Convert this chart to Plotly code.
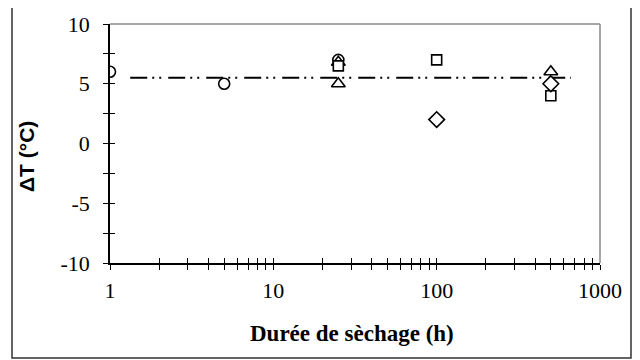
import plotly.graph_objects as go

# Data
circle_x = [1, 5, 25]
circle_y = [6, 5, 7]
triangle_x = [25, 25, 500]
triangle_y = [6.8, 5, 6]
square_x = [25, 100, 500]
square_y = [6.5, 7, 4]
diamond_x = [100, 500]
diamond_y = [2, 5]
mean_x = [1.33, 664]
mean_y = [5.5, 5.5]

x_major = [1, 10, 100, 1000]
x_ticks = [m * d for d in [1, 10, 100] for m in range(1, 10)] + [1000]
x_text = [str(v) if v in x_major else "" for v in x_ticks]
y_ticks = [-10, -7.5, -5, -2.5, 0, 2.5, 5, 7.5, 10]
y_text = [str(int(v)) if v % 5 == 0 else "" for v in y_ticks]

# page body has an 8px margin: target window coordinates minus 8
OFF = 8
W, H = 640, 360
L, T = 110 - OFF, 24 - OFF
R = W - (600 - OFF)
B = H - (263 - OFF)
pw, ph = W - L - R, H - T - B

def px(xw):
    return (xw - OFF - L) / pw

def py(yw):
    return (H - B - (yw - OFF)) / ph

fig = go.Figure()
fig.add_trace(go.Scatter(x=mean_x, y=mean_y, mode="lines",
                         line=dict(color="black", width=2, dash="17px,5px,2px,5px,2px,7px"),
                         showlegend=False, hoverinfo="skip"))
mk = dict(color="white", line=dict(color="black", width=1.6))
fig.add_trace(go.Scatter(x=circle_x, y=circle_y, mode="markers",
                         marker=dict(symbol="circle", size=11, **mk), showlegend=False))
fig.add_trace(go.Scatter(x=triangle_x, y=triangle_y, mode="markers",
                         marker=dict(symbol="triangle-up", size=12, **mk), showlegend=False))
fig.add_trace(go.Scatter(x=square_x, y=square_y, mode="markers",
                         marker=dict(symbol="square", size=10, **mk), showlegend=False))
fig.add_trace(go.Scatter(x=diamond_x, y=diamond_y, mode="markers",
                         marker=dict(symbol="diamond", size=12, **mk), showlegend=False))

tickfont = dict(family="Liberation Serif", size=22, color="black")
fig.update_layout(
    width=W, height=H,
    margin=dict(l=L, r=R, t=T, b=B, autoexpand=False),
    paper_bgcolor="white", plot_bgcolor="white",
    xaxis=dict(type="log", range=[0, 3], tickvals=x_ticks, ticktext=x_text,
               ticks="outside", ticklen=5, tickwidth=1, tickcolor="black",
               showline=True, linecolor="black", linewidth=1.5,
               showgrid=False, zeroline=False, tickfont=tickfont,
               ticklabelstandoff=2, automargin=False),
    xaxis2=dict(type="log", range=[0, 3], overlaying="x", tickvals=x_ticks,
                ticks="inside", ticklen=5, tickwidth=1, tickcolor="black",
                showticklabels=False, showgrid=False, zeroline=False, side="bottom",
                automargin=False),
    yaxis=dict(range=[-10, 10], tickvals=y_ticks, ticktext=y_text,
               ticks="outside", ticklen=5, tickwidth=1, tickcolor="black",
               showline=True, linecolor="black", linewidth=1.5,
               showgrid=False, zeroline=False, tickfont=tickfont,
               ticklabelstandoff=9, automargin=False),
    yaxis2=dict(range=[-10, 10], overlaying="y", tickvals=y_ticks,
                ticks="inside", ticklen=5, tickwidth=1, tickcolor="black",
                showticklabels=False, showgrid=False, zeroline=False, side="left",
                automargin=False),
    shapes=[
        dict(type="line", xref="paper", yref="paper", x0=0, x1=1, y0=1, y1=1,
             line=dict(color="#888888", width=1.5)),
        dict(type="line", xref="paper", yref="paper", x0=1, x1=1, y0=0, y1=1,
             line=dict(color="#888888", width=1.5)),
        dict(type="rect", xref="paper", yref="paper", x0=px(12), x1=px(631),
             y0=py(358), y1=py(4), line=dict(color="#333333", width=1.5)),
    ],
    annotations=[
        dict(text="<b>ΔT (°C)</b>", xref="paper", yref="paper", x=px(26), y=py(157),
             xanchor="center", yanchor="middle",
             showarrow=False, textangle=-90,
             font=dict(family="Liberation Sans", size=21, color="black")),
        dict(text="<b>Durée de sèchage (h)</b>", xref="paper", yref="paper",
             x=px(352), y=py(333), xanchor="center", yanchor="middle",
             showarrow=False,
             font=dict(family="Liberation Serif", size=23, color="black")),
    ],
)
# dummy trace to activate secondary axes
fig.add_trace(go.Scatter(x=[1], y=[0], xaxis="x2", yaxis="y2", mode="markers",
                         marker=dict(opacity=0), showlegend=False, hoverinfo="skip"))

fig.write_html("out.html")
